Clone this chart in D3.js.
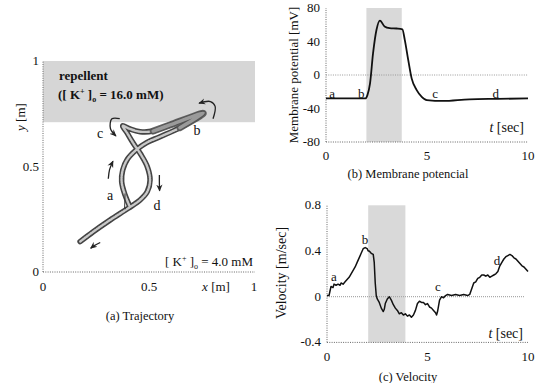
<!DOCTYPE html>
<html><head><meta charset="utf-8">
<script src="https://d3js.org/d3.v7.min.js"></script>
<style>body{margin:0;background:#fff}svg{display:block}</style>
</head><body>
<script>
// ---------- data ----------
// (a) trajectory (x, y in metres)
const trajX = [0.410,0.387,0.371,0.376,0.398,0.439,0.489,0.552,0.646,0.756,0.599,0.520,0.458,0.410,0.376,0.398,0.426,0.461,0.492,0.505,0.492,0.458,0.402,0.316,0.237,0.175];
const trajY = [0.309,0.365,0.428,0.483,0.534,0.578,0.613,0.641,0.684,0.752,0.697,0.668,0.665,0.678,0.693,0.657,0.610,0.558,0.499,0.436,0.381,0.341,0.302,0.246,0.191,0.144];
const repellentY = [0.71, 1.0];
const aTicks = [0, 0.5, 1];
const aTickLabels = ["0", "0.5", "1"];
// (b) membrane potential
const potT = [0,1.95,2.05,2.18,2.33,2.5,2.67,2.9,3.15,3.5,3.78,3.9,4.07,4.24,4.49,4.74,4.99,5.8,7.1,8.5,10];
const potV = [-28,-28,-24,-10,26,54,65,58,56,55.5,54.5,42,18,-4,-18,-26,-30,-31,-29,-28.5,-28];
const potBand = [2.0, 3.75];
const potYTicks = [80, 40, 0, -40, -80];
const tTicks = [0, 5, 10];
// (c) velocity
const velT = [0,0.1,0.15,0.2,0.3,0.35,0.45,0.55,0.65,0.7,0.8,0.9,1.0,1.1,1.2,1.3,1.4,1.5,1.6,1.7,1.8,1.9,2.0,2.05,2.1,2.2,2.3,2.35,2.4,2.45,2.5,2.6,2.7,2.8,2.85,2.9,3.0,3.1,3.2,3.3,3.4,3.5,3.6,3.7,3.8,3.9,4.0,4.1,4.2,4.3,4.4,4.5,4.6,4.7,4.8,4.9,5.0,5.1,5.2,5.3,5.4,5.45,5.5,5.55,5.6,5.7,5.8,5.9,6.0,6.2,6.4,6.6,6.8,7.0,7.1,7.2,7.3,7.4,7.5,7.6,7.7,7.8,7.9,8.0,8.1,8.2,8.3,8.4,8.5,8.6,8.7,8.8,8.9,9.0,9.1,9.2,9.3,9.4,9.5,9.6,9.7,9.8,9.9,10.0];
const velV = [0.01,0.01,0.05,0.09,0.08,0.11,0.10,0.11,0.10,0.12,0.11,0.13,0.15,0.17,0.20,0.23,0.26,0.30,0.34,0.38,0.42,0.43,0.42,0.40,0.40,0.38,0.37,0.30,0.12,0.01,-0.02,-0.05,-0.10,-0.13,-0.11,-0.06,-0.02,0.0,-0.03,-0.07,-0.10,-0.12,-0.15,-0.14,-0.16,-0.15,-0.17,-0.16,-0.18,-0.16,-0.12,-0.06,-0.04,-0.05,-0.05,-0.07,-0.06,-0.09,-0.10,-0.12,-0.14,-0.16,-0.13,-0.08,-0.03,0.0,-0.01,0.01,0.02,0.01,0.02,0.01,0.02,0.01,0.02,0.07,0.12,0.13,0.16,0.17,0.19,0.19,0.18,0.19,0.17,0.18,0.19,0.20,0.22,0.27,0.30,0.33,0.35,0.36,0.37,0.36,0.34,0.33,0.31,0.29,0.27,0.26,0.24,0.22];
const velBand = [2.05, 3.9];
const velYTicks = [0.8, 0.4, 0, -0.4];
const velYTickLabels = ["0.8", "0.4", "0", "-0.4"];

// ---------- drawing ----------
const W = 547, H = 383;
const FONT = "'Liberation Serif', 'Times New Roman', 'DejaVu Serif', serif";
const svg = d3.select("body").append("svg").attr("width", W).attr("height", H)
  .attr("font-family", FONT).style("font-family", FONT).attr("fill", "#111");
const dotted = g => g.attr("stroke", "#666").attr("stroke-width", 1).attr("stroke-dasharray", "1,1.3").attr("fill", "none");

svg.append("defs").append("marker").attr("id", "ah").attr("viewBox", "0 0 10 10")
  .attr("refX", 8).attr("refY", 5).attr("markerWidth", 6).attr("markerHeight", 6).attr("orient", "auto")
  .append("path").attr("d", "M0,1 L9,5 L0,9 L3,5 Z").attr("fill", "#222");

// ===== (a) Trajectory =====
const ax = d3.scaleLinear().domain([0, 1]).range([43, 255]);
const ay = d3.scaleLinear().domain([0, 1]).range([272, 61]);
const ga = svg.append("g");
ga.append("rect").attr("x", ax(0)).attr("y", ay(repellentY[1])).attr("width", ax(1) - ax(0))
  .attr("height", ay(repellentY[0]) - ay(repellentY[1])).attr("fill", "#d6d6d6");
ga.append("line").attr("x1", ax(0)).attr("x2", ax(0)).attr("y1", ay(0)).attr("y2", ay(1)).call(dotted);
ga.append("line").attr("x1", ax(0)).attr("x2", ax(1)).attr("y1", ay(0)).attr("y2", ay(0)).call(dotted);
aTicks.forEach((t, i) => {
  ga.append("text").attr("x", ax(t) + (i === 2 ? -1 : 0)).attr("y", 291).attr("text-anchor", "middle").attr("font-size", 13).text(aTickLabels[i]);
  ga.append("text").attr("x", 39).attr("y", ay(t) + 4).attr("text-anchor", "end").attr("font-size", 13).text(aTickLabels[i]);
});
ga.append("text").attr("x", 216).attr("y", 291).attr("text-anchor", "middle").attr("font-size", 13)
  .html('<tspan font-style="italic">x</tspan> [m]');
ga.append("text").attr("transform", "translate(25,117) rotate(-90)").attr("text-anchor", "middle").attr("font-size", 13)
  .html('<tspan font-style="italic">y</tspan> [m]');
ga.append("text").attr("x", 59).attr("y", 80).attr("font-size", 13).attr("font-weight", "bold").text("repellent");
ga.append("text").attr("x", 58).attr("y", 99).attr("font-size", 13).attr("font-weight", "bold")
  .html('([ K<tspan dy="-5" font-size="8">+</tspan><tspan dy="5"> ]</tspan><tspan dy="3" font-size="8">o</tspan><tspan dy="-3"> = 16.0 mM)</tspan>');
ga.append("text").attr("x", 253).attr("y", 266).attr("text-anchor", "end").attr("font-size", 13)
  .html('[ K<tspan dy="-5" font-size="8">+</tspan><tspan dy="5"> ]</tspan><tspan dy="3" font-size="8">o</tspan><tspan dy="-3"> = 4.0 mM</tspan>');
ga.append("text").attr("x", 140).attr("y", 320).attr("text-anchor", "middle").attr("font-size", 12.5).text("(a) Trajectory");

const trajPts = trajX.map((x, i) => [ax(x), ay(trajY[i])]);
const tline = d3.line().curve(d3.curveCatmullRom.alpha(0.5));
ga.append("path").attr("d", tline(trajPts)).attr("fill", "none").attr("stroke", "#444").attr("stroke-width", 5.5).attr("stroke-linecap", "round").attr("stroke-linejoin", "round");
ga.append("path").attr("d", tline(trajPts)).attr("fill", "none").attr("stroke", "#c8c8c8").attr("stroke-width", 2.4).attr("stroke-dasharray", "1.5,1").attr("stroke-linecap", "round");
const bSeg = trajPts.slice(8, 12);
ga.append("path").attr("d", tline(bSeg)).attr("fill", "none").attr("stroke", "#555").attr("stroke-width", 7).attr("stroke-linecap", "round").attr("opacity", 0.9);
ga.append("path").attr("d", tline(bSeg)).attr("fill", "none").attr("stroke", "#9a9a9a").attr("stroke-width", 3.5).attr("stroke-linecap", "round");
const thinX = [0.387, 0.385, 0.391], thinY = [0.372, 0.300, 0.300];
ga.append("path").attr("d", d3.line()(thinX.map((x, i) => [ax(x), ay(thinY[i])]))).attr("fill", "none").attr("stroke", "#333").attr("stroke-width", 1);

const arrows = [
  { x: [0.308, 0.314, 0.330], y: [0.442, 0.485, 0.525] },
  { x: [0.549, 0.549, 0.550], y: [0.460, 0.420, 0.385] },
  { x: [0.270, 0.240, 0.225], y: [0.140, 0.124, 0.113] },
  { x: [0.362, 0.325, 0.318, 0.344], y: [0.727, 0.726, 0.680, 0.645] },
  { x: [0.802, 0.812, 0.790, 0.736], y: [0.726, 0.785, 0.808, 0.800] }
];
arrows.forEach(a => {
  ga.append("path").attr("d", d3.line().curve(d3.curveCatmullRom)(a.x.map((x, i) => [ax(x), ay(a.y[i])])))
    .attr("fill", "none").attr("stroke", "#222").attr("stroke-width", 1.3).attr("marker-end", "url(#ah)");
});
[["a", 110, 200], ["b", 197, 135], ["c", 100, 138], ["d", 157, 210]].forEach(l =>
  ga.append("text").attr("x", l[1]).attr("y", l[2]).attr("text-anchor", "middle").attr("font-size", 14).text(l[0]));

// ===== (b) Membrane potential =====
const bx = d3.scaleLinear().domain([0, 10]).range([326, 528]);
const by = d3.scaleLinear().domain([-80, 80]).range([142, 8]);
const gb = svg.append("g");
gb.append("rect").attr("x", bx(potBand[0])).attr("y", by(80)).attr("width", bx(potBand[1]) - bx(potBand[0]))
  .attr("height", by(-80) - by(80)).attr("fill", "#d9d9d9");
gb.append("line").attr("x1", bx(0)).attr("x2", bx(0)).attr("y1", by(-80)).attr("y2", by(80)).call(dotted);
gb.append("line").attr("x1", bx(0)).attr("x2", bx(10)).attr("y1", by(-80)).attr("y2", by(-80)).call(dotted);
gb.append("line").attr("x1", bx(0)).attr("x2", bx(10)).attr("y1", by(0)).attr("y2", by(0)).call(dotted).attr("stroke", "#999");
potYTicks.forEach(t => gb.append("text").attr("x", 320).attr("y", by(t) + 4).attr("text-anchor", "end").attr("font-size", 13).text(t));
tTicks.forEach(t => gb.append("text").attr("x", bx(t)).attr("y", 160).attr("text-anchor", "middle").attr("font-size", 13).text(t));
gb.append("path").attr("d", d3.line().curve(d3.curveMonotoneX)(potT.map((t, i) => [bx(t), by(potV[i])])))
  .attr("fill", "none").attr("stroke", "#111").attr("stroke-width", 1.8);
gb.append("text").attr("transform", "translate(298,75) rotate(-90)").attr("text-anchor", "middle").attr("font-size", 13).text("Membrane potential  [mV]");
gb.append("text").attr("x", 524).attr("y", 132).attr("text-anchor", "end").attr("font-size", 14)
  .html('<tspan font-style="italic">t</tspan>  [sec]');
[["a", 0.3], ["b", 1.75], ["c", 5.4], ["d", 8.4]].forEach(l =>
  gb.append("text").attr("x", bx(l[1])).attr("y", 98).attr("text-anchor", "middle").attr("font-size", 13).text(l[0]));
gb.append("text").attr("x", 408).attr("y", 178).attr("text-anchor", "middle").attr("font-size", 12.5).text("(b) Membrane potencial");

// ===== (c) Velocity =====
const cx = d3.scaleLinear().domain([0, 10]).range([327, 528]);
const cy = d3.scaleLinear().domain([-0.4, 0.8]).range([342.4, 205.3]);
const gc = svg.append("g");
gc.append("rect").attr("x", cx(velBand[0])).attr("y", cy(0.8)).attr("width", cx(velBand[1]) - cx(velBand[0]))
  .attr("height", cy(-0.4) - cy(0.8)).attr("fill", "#d9d9d9");
gc.append("line").attr("x1", cx(0)).attr("x2", cx(0)).attr("y1", cy(-0.4)).attr("y2", cy(0.8)).call(dotted);
gc.append("line").attr("x1", cx(0)).attr("x2", cx(10)).attr("y1", cy(-0.4)).attr("y2", cy(-0.4)).call(dotted);
gc.append("line").attr("x1", cx(0)).attr("x2", cx(9.8)).attr("y1", cy(0)).attr("y2", cy(0)).attr("stroke", "#aaa").attr("stroke-width", 1.2).attr("stroke-dasharray", "1,1");
velYTicks.forEach((t, i) => gc.append("text").attr("x", 321).attr("y", cy(t) + 4).attr("text-anchor", "end").attr("font-size", 13).text(velYTickLabels[i]));
tTicks.forEach(t => gc.append("text").attr("x", cx(t)).attr("y", 361).attr("text-anchor", "middle").attr("font-size", 13).text(t));
gc.append("path").attr("d", d3.line()(velT.map((t, i) => [cx(t), cy(velV[i])])))
  .attr("fill", "none").attr("stroke", "#111").attr("stroke-width", 1.5).attr("stroke-linejoin", "round");
gc.append("text").attr("transform", "translate(286,273) rotate(-90)").attr("text-anchor", "middle").attr("font-size", 14).text("Velocity  [m/sec]");
gc.append("text").attr("x", 523).attr("y", 338).attr("text-anchor", "end").attr("font-size", 14)
  .html('<tspan font-style="italic">t</tspan>  [sec]');
[["a", 334, 281], ["b", 365, 244], ["c", 438, 291], ["d", 497, 265]].forEach(l =>
  gc.append("text").attr("x", l[1]).attr("y", l[2]).attr("text-anchor", "middle").attr("font-size", 13).text(l[0]));
gc.append("text").attr("x", 408).attr("y", 381).attr("text-anchor", "middle").attr("font-size", 12.5).text("(c) Velocity");
</script>
</body></html>
